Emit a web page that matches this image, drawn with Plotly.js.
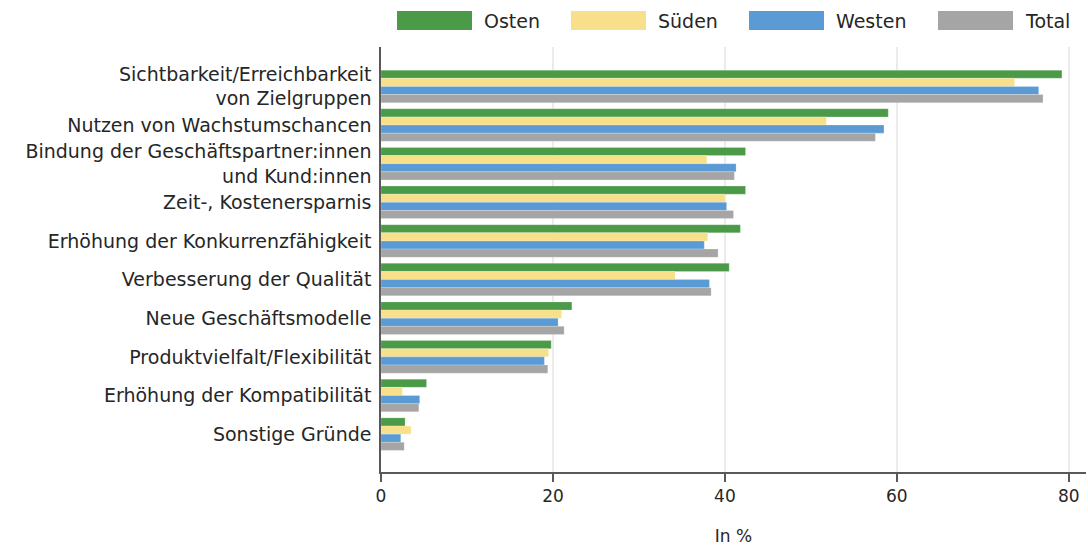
<!DOCTYPE html>
<html>
<head>
<meta charset="utf-8">
<script src="https://cdn.plot.ly/plotly-3.0.1.min.js"></script>
<style>html,body{margin:0;padding:0;background:#fff;}#chart{width:1088px;height:546px;}</style>
</head>
<body>
<div id="chart"></div>
<script>
const categories = [
  "Sichtbarkeit/Erreichbarkeit<br>von Zielgruppen",
  "Nutzen von Wachstumschancen",
  "Bindung der Geschäftspartner:innen<br>und Kund:innen",
  "Zeit-, Kostenersparnis",
  "Erhöhung der Konkurrenzfähigkeit",
  "Verbesserung der Qualität",
  "Neue Geschäftsmodelle",
  "Produktvielfalt/Flexibilität",
  "Erhöhung der Kompatibilität",
  "Sonstige Gründe"
];
const seriesNames = ["Osten", "Süden", "Westen", "Total"];
const osten  = [79.2, 59.0, 42.4, 42.4, 41.8, 40.5, 22.2, 19.8, 5.3, 2.8];
const sueden = [73.7, 51.8, 37.9, 40.0, 38.0, 34.2, 21.0, 19.5, 2.5, 3.5];
const westen = [76.5, 58.5, 41.3, 40.2, 37.6, 38.2, 20.6, 19.0, 4.5, 2.3];
const total  = [77.0, 57.5, 41.1, 41.0, 39.2, 38.4, 21.3, 19.4, 4.4, 2.7];
const xTicks = [0, 20, 40, 60, 80];
const xTitle = "In %";

const colors = ["#4b9a47", "#f8e08b", "#5a9bd5", "#a5a5a5"];
const FONT = "DejaVu Sans, sans-serif";
const TXT = "#262626";

const values = [osten, sueden, westen, total];
const traces = values.map((v, i) => ({
  type: "bar",
  orientation: "h",
  name: seriesNames[i],
  x: v,
  y: categories,
  marker: {color: colors[i], line: {color: "rgba(255,255,255,0.35)", width: 0.6}},
  hoverinfo: "x+name",
  showlegend: false
}));

// legend drawn as swatches + labels in paper space
const legendX = [397, 571, 749, 938];
const shapes = [];
const annotations = [];
const L = 381, R = 1086, T = 47, B = 472;
const pw = R - L;
seriesNames.forEach((n, i) => {
  const x0 = (legendX[i] - L) / pw, x1 = (legendX[i] + 75 - L) / pw;
  shapes.push({type: "rect", xref: "paper", yref: "paper", x0: x0, x1: x1,
    y0: 1 + (T - 30) / (B - T), y1: 1 + (T - 11) / (B - T),
    fillcolor: colors[i], line: {width: 0}});
  annotations.push({xref: "paper", yref: "paper", x: (legendX[i] + 85 - L) / pw,
    y: 1 + (T - 20.5) / (B - T), xanchor: "left", yanchor: "middle", showarrow: false,
    text: n, font: {family: FONT, size: 19, color: TXT}});
});

const layout = {
  width: 1088, height: 546,
  margin: {l: L, r: 1088 - R, t: T, b: 546 - B, pad: 0},
  paper_bgcolor: "#fff", plot_bgcolor: "#fff",
  barmode: "group",
  bargap: 0.158, bargroupgap: 0,
  font: {family: FONT, size: 17, color: TXT},
  xaxis: {
    range: [0, 82], tickvals: xTicks, ticktext: xTicks.map(String),
    showgrid: true, gridcolor: "#ebebeb", gridwidth: 1.5,
    zeroline: false, showline: true, linecolor: "#595959", linewidth: 1.5,
    ticks: "outside", ticklen: 8, tickcolor: "#595959", tickwidth: 1.5,
    tickfont: {family: FONT, size: 17, color: TXT},
    title: {text: xTitle, font: {family: FONT, size: 17, color: TXT}, standoff: 27}
  },
  yaxis: {
    type: "category",
    range: [9.98, -1.02],
    showgrid: false, zeroline: false,
    showline: true, linecolor: "#595959", linewidth: 1.5,
    ticks: "", ticklabelstandoff: 4,
    tickfont: {family: FONT, size: 19, color: TXT}
  },
  shapes: shapes,
  annotations: annotations
};

Plotly.newPlot("chart", traces, layout, {displayModeBar: false, responsive: false});
</script>
</body>
</html>
